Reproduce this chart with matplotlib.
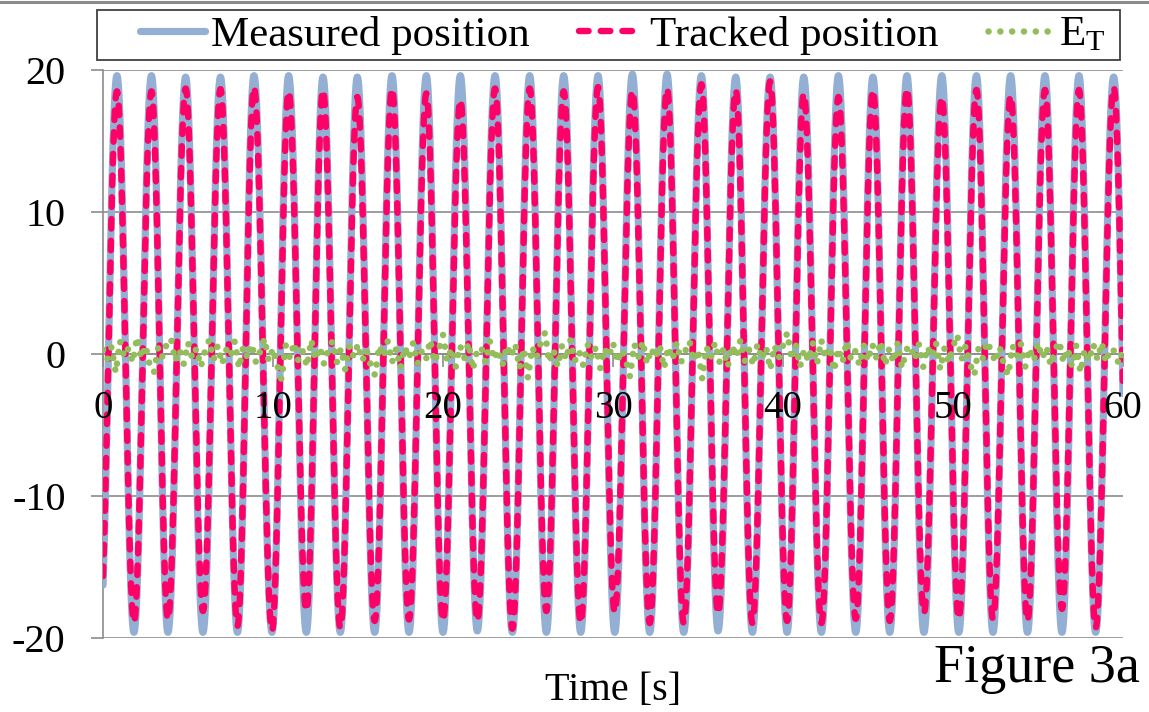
import numpy as np
import matplotlib
matplotlib.use("Agg")
import matplotlib.pyplot as plt
from matplotlib.patches import Rectangle
from matplotlib.lines import Line2D

plt.rcParams['font.family'] = ['Liberation Serif', 'DejaVu Serif']
plt.rcParams['mathtext.fontset'] = 'custom'
plt.rcParams['mathtext.rm'] = 'Liberation Serif'
plt.rcParams['mathtext.it'] = 'Liberation Serif:italic'
plt.rcParams['axes.unicode_minus'] = False

# ---------------- data ----------------
# times [s] of the crests and troughs of the oscillation (first/last trough lie just outside 0..60)
peak_times = [0.82, 2.85, 4.86, 6.91, 8.88, 10.92, 12.94, 14.96, 17.00, 19.02,
              21.02, 23.06, 25.10, 27.10, 29.12, 31.14, 33.18, 35.20, 37.22, 39.24,
              41.22, 43.26, 45.29, 47.29, 49.34, 51.38, 53.39, 55.41, 57.41, 59.45]
trough_times = [-0.19, 1.82, 3.82, 5.88, 7.91, 9.94, 11.96, 13.96, 15.98, 18.00, 20.00,
                22.02, 24.08, 26.08, 28.10, 30.10, 32.16, 34.16, 36.18, 38.20, 40.24,
                42.26, 44.28, 46.28, 48.29, 50.34, 52.35, 54.38, 56.41, 58.39, 60.46]

measured_peaks = [19.6, 19.6, 19.5, 19.5, 19.6, 19.6, 19.5, 19.5, 19.6, 19.6,
                  19.6, 19.6, 19.6, 19.6, 19.6, 19.7, 19.7, 19.6, 19.5, 19.5,
                  19.5, 19.6, 19.5, 19.6, 19.6, 19.6, 19.6, 19.6, 19.6, 19.5]
measured_troughs = [-19.6, -19.6, -19.6, -19.6, -19.6, -19.6, -19.6, -19.6, -19.6, -19.6, -19.6,
                    -19.5, -19.6, -19.6, -19.6, -19.6, -19.6, -19.6, -19.5, -19.6, -19.6,
                    -19.6, -19.6, -19.6, -19.6, -19.6, -19.6, -19.6, -19.6, -19.6, -19.6]

tracked_peaks = [18.5, 18.5, 18.7, 18.65, 18.8, 18.5, 18.6, 18.1, 18.7, 18.35,
                 17.9, 18.7, 18.7, 18.5, 18.8, 18.55, 18.7, 19.0, 18.6, 19.2,
                 18.35, 18.1, 18.6, 18.7, 18.1, 18.6, 18.2, 18.6, 18.6, 18.8]
tracked_troughs = [-18.8, -18.9, -18.7, -18.1, -19.15, -19.5, -18.1, -19.3, -18.8, -18.7, -18.8,
                   -18.8, -19.35, -18.1, -18.95, -18.2, -18.95, -18.95, -18.3, -18.95, -18.8,
                   -18.95, -18.65, -18.8, -18.25, -18.65, -18.65, -18.8, -17.95, -19.3, -18.6]

# tracking error E_T, sampled every 0.25 s from 0 to 60 s
et_step = 0.25
et_values = [
    0.3, -0.4, 0.5, -1.3, 0.9, -0.2, 0.4, -0.6, 1.2, -0.3, 0.6, -0.8, -1.3, 0.5, -0.2, 0.7, 1.1, -0.5, 0.3, -0.7,
    0.8, -0.3, 0.4, -0.9, 0.2, 1.0, -0.4, 0.6, -0.7, 0.3, -0.2, 0.9, -1.0, 0.5, -0.3, 0.7, -0.6, 0.2, 1.1, -0.5,
    0.4, -0.8, -1.8, 0.6, -0.3, 0.8, -0.5, 0.2, -0.9, 1.0, -0.4, 0.5, -0.7, 0.3, 0.9, -0.6, 0.4, -1.1, 0.6, -0.2,
    0.7, -0.5, 0.3, -0.8, -1.5, 0.6, -0.2, 0.9, -0.6, 0.4, -1.0, 0.5, -0.3, 0.8, -0.7, 0.2, -0.4, 1.0, -0.6, 0.3,
    1.35, -0.5, 0.4, -0.9, 0.6, -0.3, 0.8, -1.1, 0.2, 0.5, -0.6, 0.9, -0.4, 0.3, -0.8, 0.6, -0.2, 0.7, -1.0, 0.4,
    -1.7, 0.5, -0.3, 0.8, 1.5, -0.6, 0.3, -0.9, 0.6, -0.4, 1.0, -0.5, 0.2, -0.8, 0.7, -0.3, 0.5, -1.0, 0.4, -0.2,
    0.8, -0.6, 0.3, -0.4, -1.6, 0.7, -0.2, 0.9, -0.7, 0.4, -0.3, 0.6, -1.0, 0.5, -0.4, 0.8, -0.6, 0.2, 0.9, -0.5,
    0.3, -1.76, 0.5, -0.3, 0.8, -0.6, 0.4, -0.9, 0.6, -0.2, 1.0, -0.5, 0.3, -0.8, 0.7, -0.4, 0.5, -1.1, 0.6, -0.3,
    0.6, 1.5, -0.4, 0.7, -0.9, 0.3, -0.5, 0.8, -0.7, 1.0, -0.3, 0.5, -1.2, 0.4, -0.6, 0.9, -0.4, 0.2, -0.8, 0.6,
    -0.5, 0.7, -0.3, 0.9, -0.8, 0.4, -0.6, 0.8, -1.0, 0.3, 0.6, -0.4, 0.7, -0.9, 0.5, -0.2, 0.8, -1.1, 0.4, -0.6,
    0.5, 1.35, -0.4, 0.6, -0.7, -1.5, 0.4, -0.3, 0.9, 0.2, -0.6, 0.5, -0.8, -1.5, 0.6, -0.2, 0.7, -0.9, 0.4, -0.5,
    0.8, -0.3, 0.5, -0.8, 0.3, 0.9, -0.6, 0.4, -0.9, 0.6, -1.3, 0.3, -0.5, 0.7, -0.4, 0.8, -0.6, 0.4, 0.2, -0.7,
    0.3]

x_ticks = [0, 10, 20, 30, 40, 50, 60]
y_ticks = [-20, -10, 0, 10, 20]
legend_labels = ['Measured position', 'Tracked position', r'E$_{\mathregular{T}}$']
x_label = 'Time [s]'
fig_caption = 'Figure 3a'

# ---------------- helpers ----------------
def extremes(peaks_t, peaks_v, troughs_t, troughs_v):
    t = np.array(list(peaks_t) + list(troughs_t))
    v = np.array(list(peaks_v) + list(troughs_v))
    o = np.argsort(t)
    return t[o], v[o]

def smooth_through(ext_t, ext_v, t):
    # smooth (half-cosine) stroke between consecutive read extremes
    idx = np.clip(np.searchsorted(ext_t, t, side='right') - 1, 0, len(ext_t) - 2)
    t0, t1 = ext_t[idx], ext_t[idx + 1]
    v0, v1 = ext_v[idx], ext_v[idx + 1]
    s = (t - t0) / (t1 - t0)
    return v0 + (v1 - v0) * (1 - np.cos(np.pi * s)) / 2

t = np.linspace(0, 60, 6001)
mt, mv = extremes(peak_times, measured_peaks, trough_times, measured_troughs)
tt, tv = extremes(peak_times, tracked_peaks, trough_times, tracked_troughs)
measured = smooth_through(mt, mv, t)
tracked = smooth_through(tt, tv, t)
et_t = np.arange(len(et_values)) * et_step

# ---------------- figure ----------------
W, H = 1149, 712
fig = plt.figure(figsize=(W / 100, H / 100), dpi=100)
ax = fig.add_axes([103 / W, 1 - 638 / H, (1123 - 103) / W, (638 - 70) / H])

grey = '#8c8c8c'
c_meas = '#93afd3'
c_track = '#ff0066'
c_et = '#92bd5a'

l1, = ax.plot(t, measured, color=c_meas, lw=5.2, solid_capstyle='round', zorder=3)
l2, = ax.plot(t, tracked, color=c_track, lw=4.6, dashes=(1.5, 1.9),
              dash_capstyle='round', zorder=4)
l3, = ax.plot(et_t, et_values, color=c_et, lw=4.7, dashes=(0.01, 1.8),
              dash_capstyle='round', zorder=5)

ax.set_xlim(0, 60)
ax.set_ylim(-20, 20)
ax.set_xticks(x_ticks)
ax.set_yticks(y_ticks)
ax.set_xticklabels([])
ax.set_yticklabels([str(v) for v in y_ticks])

# x tick labels drawn in front of the curves
for v in x_ticks:
    ax.annotate(str(v), xy=(v, 0), xycoords='data', xytext=(0, -39),
                textcoords='offset points', ha='center', va='center',
                fontsize=28, zorder=10, annotation_clip=False)

for s in ['top', 'right']:
    ax.spines[s].set_visible(False)
ax.spines['left'].set_color(grey)
ax.spines['left'].set_linewidth(1.2)
ax.spines['bottom'].set_color(grey)
ax.spines['bottom'].set_linewidth(1.2)
ax.spines['bottom'].set_position(('data', 0))

ax.yaxis.grid(True, color=grey, lw=1.2)
ax.set_axisbelow(True)

ax.tick_params(axis='x', direction='out', length=9, width=1.2, color=grey)
ax.tick_params(axis='y', direction='out', length=9, width=1.2, color=grey,
               pad=18, labelsize=29, labelcolor='black')

# legend frame and entries
fig.add_artist(Rectangle((97 / W, 1 - 60 / H), (1120 - 97) / W, 50 / H,
                         transform=fig.transFigure, fill=False,
                         edgecolor='#404040', lw=1.3))
leg = fig.legend([l1, l2, l3], legend_labels, ncol=3, frameon=False,
                 loc='center left', bbox_to_anchor=(140 / W, 1 - 35 / H),
                 fontsize=31, handlelength=1.5, handletextpad=0.15,
                 columnspacing=1.15, borderpad=0, borderaxespad=0)

# top border line of the image
fig.add_artist(Line2D([0, 1], [1 - 1.5 / H, 1 - 1.5 / H], transform=fig.transFigure,
                      color='#8a8a8a', lw=2.2))

fig.text(613 / W, 1 - 700 / H, x_label, ha='center', va='baseline', fontsize=29)
fig.text(1140 / W, 1 - 682 / H, fig_caption, ha='right', va='baseline', fontsize=39)

fig.savefig('out.png', dpi=100)
